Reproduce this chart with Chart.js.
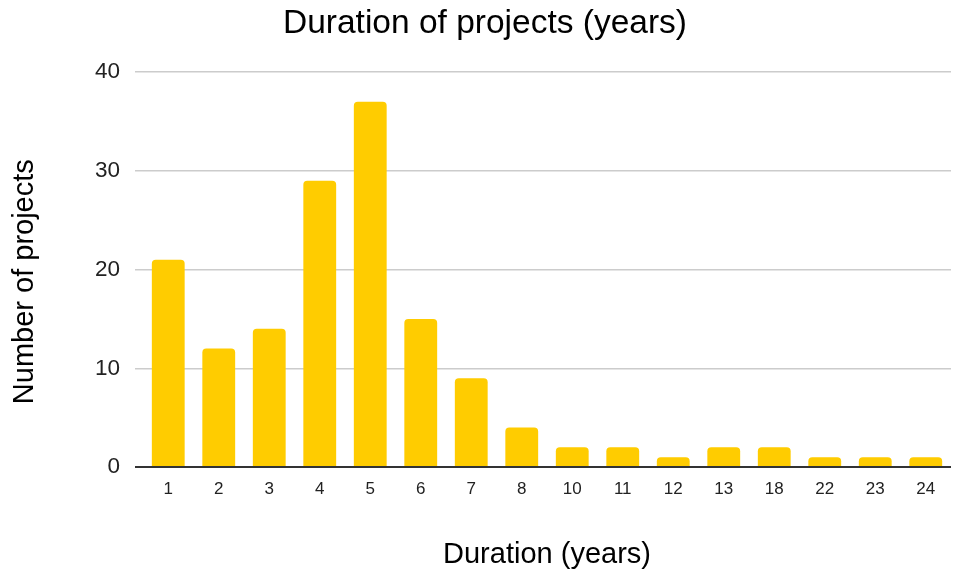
<!DOCTYPE html>
<html>
<head>
<meta charset="utf-8">
<script src="https://cdn.jsdelivr.net/npm/chart.js@4"></script>
<style>
html,body{margin:0;padding:0;background:#fff;}
#wrap{width:953px;height:573px;position:relative;}
</style>
</head>
<body>
<div id="wrap"><canvas id="c" width="953" height="573"></canvas></div>
<script>
const categories = ["1","2","3","4","5","6","7","8","10","11","12","13","18","22","23","24"];
const projectCounts = [21,12,14,29,37,15,9,4,2,2,1,2,2,1,1,1];
const yTicks = [0,10,20,30,40];

const FONT = "'Liberation Sans', Arial, sans-serif";
new Chart(document.getElementById('c'), {
  type: 'bar',
  data: {
    labels: categories,
    datasets: [{
      data: projectCounts,
      backgroundColor: '#ffcc00',
      borderRadius: 4,
      borderSkipped: 'bottom',
      barPercentage: 0.65,
      categoryPercentage: 1.0
    }]
  },
  options: {
    responsive: false,
    animation: false,
    devicePixelRatio: 1,
    layout: { padding: { left: 19, right: 2, top: 0, bottom: 0 } },
    plugins: {
      legend: { display: false },
      tooltip: { enabled: false },
      title: {
        display: true,
        text: 'Duration of projects (years)',
        color: '#000',
        font: { family: FONT, size: 33.5, weight: 'normal' },
        padding: { top: 4, bottom: 28 }
      }
    },
    scales: {
      x: {
        grid: { display: false, drawTicks: false },
        border: { display: false },
        ticks: { color: '#222', font: { family: FONT, size: 17 }, padding: 12, maxRotation: 0, autoSkip: false },
        title: { display: true, text: 'Duration (years)', color: '#000', font: { family: FONT, size: 29 }, padding: { top: 30, bottom: 1 } },
        afterFit: s => { s.height = 106; }
      },
      y: {
        min: 0, max: 40,
        afterBuildTicks: s => { s.ticks = yTicks.map(v => ({ value: v })); },
        grid: {
          drawTicks: true,
          tickLength: 8,
          color: c => (c.tick && c.tick.value === 0) ? '#333' : '#cccccc',
          lineWidth: c => (c.tick && c.tick.value === 0) ? 2 : 1.5
        },
        border: { display: false },
        ticks: { color: '#222', font: { family: FONT, size: 22.5 }, padding: 15 },
        title: { display: true, text: 'Number of projects   ', color: '#000', font: { family: FONT, size: 29 }, padding: { top: -11.4, bottom: 0 } },
        afterFit: s => { s.width = 124; }
      }
    }
  }
});
</script>
</body>
</html>
